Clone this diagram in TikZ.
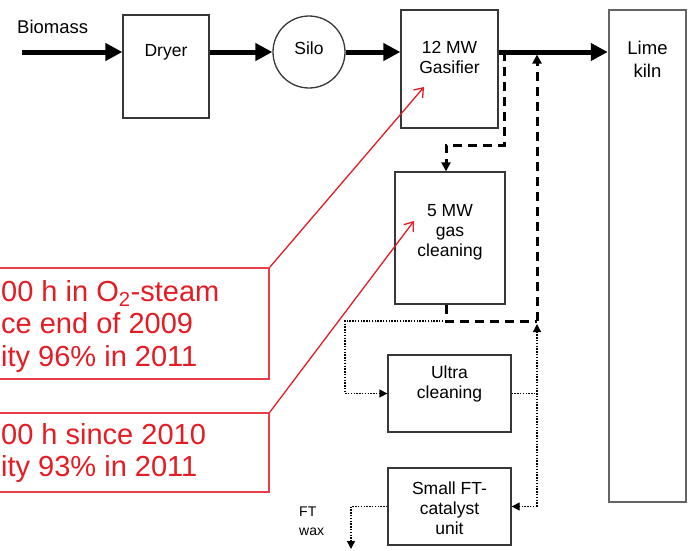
\documentclass[tikz,border=0pt]{standalone}
\usepackage{fontspec}
\setmainfont{Liberation Sans}
\usetikzlibrary{arrows.meta,positioning}
\definecolor{callred}{RGB}{228,28,36}
\definecolor{boxgray}{RGB}{55,55,55}
\definecolor{kilngray}{RGB}{100,100,100}
\begin{document}
\begin{tikzpicture}[x=1pt,y=-1pt,
  unit/.style={draw=boxgray,line width=1.3pt,inner sep=0pt},
  unittxt/.style={align=center,inner sep=0pt,font=\fontsize{17.5}{20}\selectfont},
  flow/.style={line width=5pt,-{Triangle[length=17pt,width=17pt]}},
  gasline/.style={line width=3pt,dash pattern=on 9pt off 6pt},
  gasflow/.style={gasline,-{Triangle[length=9pt,width=9pt]}},
  dotline/.style={line width=1.3pt,dash pattern=on 1.4pt off 1.4pt},
  dotflow/.style={dotline,-{Triangle[length=8pt,width=8pt]}},
  callbox/.style={draw=callred!85,line width=1.5pt,inner sep=0pt},
  calltxt/.style={text=callred,align=left,inner sep=0pt,font=\fontsize{29}{32.5}\selectfont},
  callarrow/.style={callred,line width=1.3pt,-{Straight Barb[length=8pt,width=12pt]}}]
\useasboundingbox (0,0) rectangle (697,550);
\clip (0,0) rectangle (697,550);
% units
\node[unit,minimum width=86,minimum height=103] (dryer) at (166,66.5) {};
\node[unittxt] (dryertxt) at (166,52) {Dryer};
\node[unit,circle,minimum size=72] (silo) at (309,52) {};
\node[unittxt] (silotxt) at (309,48) {Silo};
\node[unit,minimum width=97,minimum height=118] (gasifier) at (449.5,69) {};
\node[unittxt] (gasifiertxt) at (449.5,57) {12 MW\\Gasifier};
\node[unit,minimum width=110,minimum height=132] (clean) at (450,238) {};
\node[unittxt] (cleantxt) at (450,232) {5 MW\\gas\\cleaning};
\node[unit,minimum width=123,minimum height=77] (ultra) at (449.5,393.5) {};
\node[unittxt] (ultratxt) at (449.5,384) {Ultra\\cleaning};
\node[unit,minimum width=123,minimum height=77] (ftunit) at (449.5,506.5) {};
\node[unittxt] (ftunittxt) at (449.5,508) {Small FT-\\catalyst\\unit};
\node[unit,draw=kilngray,line width=2.5pt,minimum width=77,minimum height=492] (kiln) at (647.5,256) {};
\node[unittxt,font=\fontsize{18.5}{23}\selectfont] (kilntxt) at (647.5,59) {Lime\\kiln};
\node[anchor=west,inner sep=0pt,font=\fontsize{18.5}{20}\selectfont] (biolabel) at (17,27) {Biomass};
\node[anchor=west,inner sep=0pt,align=left,font=\fontsize{14}{19}\selectfont] (waxlabel) at (299,521) {FT\\wax};
% main line
\coordinate (biostart) at (22,52);
\draw[flow] (biostart) -- (biostart -| dryer.west);
\draw[flow] (dryer.east |- silo) -- (silo.west);
\draw[flow] (silo.east) -- (silo.east -| gasifier.west);
\draw[flow] (gasifier.east |- silo) -- (silo -| kiln.west);
% gas to cleaning and back
\coordinate (tap) at (504,52);
\coordinate (ret) at (537,321);
\draw[gasflow] (tap) -- (504,145) -| ([xshift=-4]clean.north);
\draw[gasline] ([xshift=-4]clean.south) |- (ret);
\draw[gasflow,shorten >=2.5pt] (ret) -- (ret |- tap);
% slip streams
\coordinate (ftin) at (537,506.5);
\coordinate (waxout) at (351,549);
\draw[dotflow] ([xshift=-4]clean.south |- ret) -| (345,393.5) -- (ultra.west);
\draw[dotline] (ultra.east) -- (ultra.east -| ret);
\draw[dotflow] (ftin) -- ([yshift=-3]ret);
\draw[dotflow] (ftin) -- (ftunit.east);
\draw[dotflow] (ftunit.west) -| (waxout);
% callouts
\node[callbox,minimum width=280,minimum height=111] (note1) at (129,323.5) {};
\node[calltxt,anchor=west] (note1txt) at (1,326) {00 h in O\textsubscript{2}-steam\\ce end of 2009\\ity 96\% in 2011};
\node[callbox,minimum width=280,minimum height=79] (note2) at (129,452.5) {};
\node[calltxt,anchor=west] (note2txt) at (1,453) {00 h since 2010\\ity 93\% in 2011};
\coordinate (gastip) at (424,87);
\coordinate (cleantip) at (414,221);
\draw[callarrow] (note1.north east) -- (gastip);
\draw[callarrow] (note2.north east) -- (cleantip);
\end{tikzpicture}
\end{document}
